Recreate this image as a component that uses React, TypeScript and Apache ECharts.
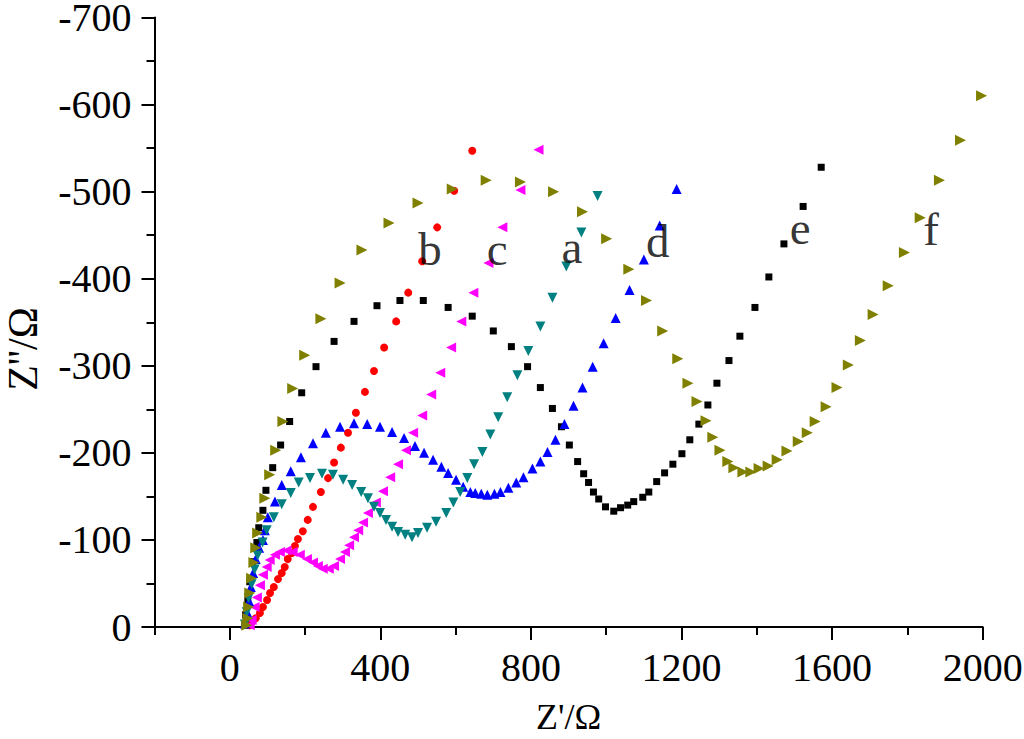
import React, { useEffect, useRef } from 'react';
import * as echarts from 'echarts';

// Axis ticks
const X_MAJOR = [0, 400, 800, 1200, 1600, 2000];
const X_MINOR = [-200, 200, 600, 1000, 1400, 1800];

// Axis titles
const X_TITLE = "Z'/Ω";
const Y_TITLE = "Z''/Ω";

// Curve a (teal, down triangles)
const curveA: number[][] = [
  [40, -3], [45, -17], [50, -33], [58, -49], [66, -66], [74, -82], [87, -97], [98, -111], [117, -126], [138, -141],
  [162, -154], [183, -166], [213, -171], [245, -176], [274, -175], [301, -169], [325, -163], [349, -155], [367, -148],
  [383, -138], [399, -131], [415, -123], [431, -115], [447, -109], [466, -106], [484, -103], [500, -108], [524, -114],
  [548, -121], [575, -131], [594, -143], [612, -155], [631, -171], [649, -187], [671, -201], [692, -221], [713, -241],
  [737, -264], [764, -289], [793, -317], [825, -345], [857, -378], [894, -414], [934, -453], [977, -495],
];

// Curve b (red, circles)
const curveB: number[][] = [
  [53, -2], [59, -6], [69, -10], [80, -16], [88, -23], [99, -31], [107, -39], [117, -46], [128, -55], [138, -62],
  [146, -69], [154, -78], [165, -85], [173, -93], [181, -101], [194, -110], [207, -123], [221, -138], [242, -155],
  [261, -171], [277, -189], [295, -206], [314, -223], [335, -246], [359, -270], [383, -294], [410, -321], [442, -351],
  [474, -384], [511, -420], [551, -459], [596, -501], [644, -547],
];

// Curve c (magenta, left triangles)
const curveC: number[][] = [
  [53, -2], [58, -8], [66, -23], [72, -34], [80, -48], [88, -60], [98, -69], [106, -77], [120, -83], [133, -86],
  [151, -88], [167, -86], [186, -83], [205, -78], [221, -74], [234, -70], [247, -67], [263, -67], [277, -70],
  [293, -78], [306, -86], [317, -94], [330, -103], [341, -111], [354, -120], [367, -131], [388, -143], [407, -156],
  [426, -172], [447, -187], [468, -203], [487, -223], [511, -243], [535, -267], [559, -292], [588, -321], [615, -351],
  [647, -384], [687, -418], [724, -459], [772, -502], [820, -548],
];

// Curve d (blue, up triangles)
const curveD: number[][] = [
  [40, -4], [46, -17], [51, -30], [56, -46], [62, -62], [69, -78], [78, -91], [88, -100], [93, -111], [101, -126],
  [120, -144], [138, -163], [162, -179], [189, -195], [221, -211], [255, -223], [293, -230], [330, -234], [365, -233],
  [399, -230], [431, -224], [463, -217], [492, -208], [516, -200], [540, -192], [562, -184], [580, -177], [601, -169],
  [620, -161], [639, -155], [652, -154], [668, -153], [684, -152], [703, -153], [719, -155], [740, -160], [761, -166],
  [780, -172], [804, -182], [825, -190], [844, -201], [865, -215], [889, -233], [913, -254], [937, -275], [964, -299],
  [993, -326], [1025, -355], [1062, -387], [1100, -422], [1142, -461], [1187, -503],
];

// Curve e (black, squares)
const curveE: number[][] = [
  [40, -2], [42, -14], [48, -31], [53, -52], [61, -75], [72, -97], [77, -114], [88, -134], [96, -157], [114, -183],
  [135, -209], [159, -236], [191, -269], [229, -299], [277, -328], [330, -351], [391, -369], [452, -375], [514, -375],
  [580, -367], [644, -357], [700, -340], [748, -322], [791, -299], [825, -275], [857, -251], [881, -230], [902, -209],
  [924, -190], [940, -176], [953, -166], [966, -155], [980, -147], [998, -138], [1020, -133], [1038, -137],
  [1057, -140], [1073, -144], [1097, -149], [1113, -155], [1134, -167], [1155, -177], [1177, -187], [1201, -199],
  [1222, -215], [1246, -233], [1270, -255], [1294, -280], [1326, -306], [1355, -334], [1395, -367], [1432, -402],
  [1472, -440], [1523, -483], [1571, -528],
];

// Curve f (olive, right triangles)
const curveF: number[][] = [
  [45, -2], [48, -10], [50, -23], [53, -39], [58, -56], [64, -74], [69, -91], [74, -108], [85, -126], [93, -148],
  [106, -175], [122, -203], [141, -236], [167, -274], [199, -312], [242, -354], [293, -395], [351, -433], [423, -464],
  [500, -487], [591, -503], [681, -513], [772, -511], [860, -500], [937, -477], [1001, -446], [1060, -411],
  [1107, -375], [1150, -340], [1190, -308], [1217, -280], [1241, -259], [1265, -237], [1283, -218], [1302, -203],
  [1323, -190], [1339, -183], [1363, -178], [1384, -178], [1406, -182], [1430, -185], [1454, -192], [1480, -202],
  [1510, -213], [1534, -223], [1555, -236], [1584, -253], [1613, -275], [1643, -301], [1675, -329], [1709, -359],
  [1749, -392], [1792, -430], [1834, -470], [1885, -513], [1941, -559], [1997, -610],
];

// Curve labels
const LABEL_NAMES = ['b', 'c', 'a', 'd', 'e', 'f'];
const LABEL_X = [532, 710, 909, 1137, 1515, 1863];
const LABEL_Y = [-434, -434, -436, -443, -458, -457];

const FONT = "'Liberation Serif', 'Times New Roman', serif";

export default function App() {
  const ref = useRef<HTMLDivElement>(null);

  useEffect(() => {
    if (!ref.current) return;
    const chart = echarts.init(ref.current, null, { renderer: 'svg' });
    const line = { color: '#000', width: 2 };

    const mk = (name: string, data: number[][], symbol: string, size: number, color: string, rotate = 0) => ({
      type: 'scatter',
      name,
      data,
      symbol,
      symbolSize: size,
      symbolRotate: rotate,
      itemStyle: { color, opacity: 1 },
      silent: true,
    });

    const option: any = {
      animation: false,
      backgroundColor: '#fff',
      grid: { left: 154.5, right: 41.3, top: 17.5, bottom: 112, containLabel: false, outerBoundsMode: 'none' },
      graphic: [
        {
          type: 'text',
          x: 23,
          y: 349,
          rotation: Math.PI / 2,
          silent: true,
          style: {
            text: Y_TITLE,
            fontFamily: FONT,
            fontSize: 42,
            lineHeight: 30,
            fill: '#000',
            align: 'center',
            verticalAlign: 'middle',
          },
        },
      ],
      xAxis: [
        {
          type: 'value',
          min: -200,
          max: 2000,
          axisLine: { show: true, onZero: false, lineStyle: line },
          axisTick: { show: true, length: 13, customValues: X_MAJOR, lineStyle: line },
          axisLabel: {
            customValues: X_MAJOR,
            formatter: (v: number) => String(v),
            fontFamily: FONT,
            fontSize: 40,
            color: '#000',
            margin: 20,
          },
          splitLine: { show: false },
          name: X_TITLE,
          nameLocation: 'middle',
          nameGap: 73,
          nameTextStyle: { fontFamily: FONT, fontSize: 36, color: '#000', lineHeight: 34 },
        },
        {
          type: 'value',
          min: -200,
          max: 2000,
          position: 'bottom',
          axisLine: { show: false },
          axisTick: { show: true, length: 8, customValues: X_MINOR, lineStyle: line },
          axisLabel: { show: false },
          splitLine: { show: false },
        },
      ],
      yAxis: {
        type: 'value',
        min: -700,
        max: 0,
        interval: 100,
        inverse: true,
        axisLine: { show: true, onZero: false, lineStyle: line },
        axisTick: { show: true, length: 13, lineStyle: line },
        minorTick: { show: true, splitNumber: 2, length: 8, lineStyle: line },
        axisLabel: {
          formatter: (v: number) => String(v),
          fontFamily: FONT,
          fontSize: 40,
          lineHeight: 30,
          color: '#000',
          margin: 23,
        },
        splitLine: { show: false },
        minorSplitLine: { show: false },
      },
      series: [
        mk('e', curveE, 'rect', 7, '#000000'),
        mk('b', curveB, 'circle', 8, '#ff0000'),
        mk('c', curveC, 'triangle', 10, '#ff00ff', 90),
        mk('d', curveD, 'triangle', 10, '#0000ff'),
        mk('a', curveA, 'triangle', 10, '#008080', 180),
        mk('f', curveF, 'triangle', 11, '#808000', -90),
        {
          type: 'scatter',
          silent: true,
          symbolSize: 0,
          data: LABEL_NAMES.map((n, i) => ({ name: n, value: [LABEL_X[i], LABEL_Y[i]] })),
          label: {
            show: true,
            position: 'inside',
            formatter: '{b}',
            fontFamily: FONT,
            fontSize: 47,
            color: '#000',
          },
          z: 10,
        },
      ],
    };
    chart.setOption(option);
    return () => chart.dispose();
  }, []);

  return (
    <div
      ref={ref}
      style={{ position: 'fixed', left: 0, top: 0, width: 1024, height: 739, background: '#fff' }}
    />
  );
}
